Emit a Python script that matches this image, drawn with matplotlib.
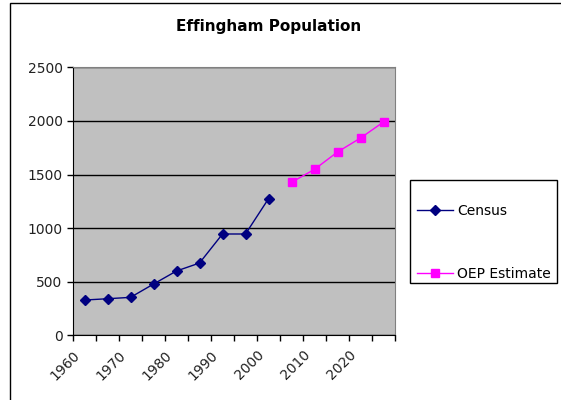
import matplotlib.pyplot as plt
from matplotlib.patches import Rectangle

plt.rcParams['font.family'] = ['DejaVu Sans']

years = [1960, 1965, 1970, 1975, 1980, 1985, 1990, 1995, 2000,
         2005, 2010, 2015, 2020, 2025]
census = [329, 341, 354, 478, 600, 674, 945, 945, 1274]
oep = [1427, 1548, 1710, 1840, 1990]
tick_labels = ['1960', '1970', '1980', '1990', '2000', '2010', '2020']

n = len(years)
x_census = list(range(len(census)))
x_oep = list(range(len(census), n))

fig = plt.figure(figsize=(5.61, 4.0), dpi=100)
# outer chart border
fig.patches.append(Rectangle((10 / 561, -0.01), 1.0, 1.0025, transform=fig.transFigure,
                             fill=False, edgecolor='black', linewidth=1.0))
# legend box
fig.patches.append(Rectangle((410 / 561, 117 / 400), 147 / 561, 103 / 400,
                             transform=fig.transFigure, fill=False,
                             edgecolor='black', linewidth=1.0))

ax = fig.add_axes([73 / 561, (400 - 335.3) / 400, 322 / 561, 268 / 400])
ax.set_facecolor('#C0C0C0')

ax.plot(x_census, census, color='#000080', marker='D', markersize=5.5, linewidth=1.0,
        label='Census')
ax.plot(x_oep, oep, color='#FF00FF', marker='s', markersize=6, linewidth=1.0,
        label='OEP Estimate')

ax.set_xlim(-0.5, n - 0.5)
ax.set_ylim(0, 2500)
ax.set_yticks(range(0, 2501, 500))
ax.yaxis.grid(True, color='black', linewidth=1.0)
ax.set_axisbelow(True)

ticks = [i - 0.5 for i in range(n + 1)]
labels = [''] * len(ticks)
for k, lab in enumerate(tick_labels):
    labels[2 * k] = lab
ax.set_xticks(ticks)
ax.set_xticklabels(labels, rotation=45, ha='right', rotation_mode='anchor')

ax.tick_params(axis='both', direction='out', length=4, width=1, labelsize=10,
               colors='black', labelcolor='#222222')
ax.tick_params(axis='x', pad=5)

for side in ['top', 'right']:
    ax.spines[side].set_color('#808080')
for side in ['left', 'bottom']:
    ax.spines[side].set_color('black')

fig.text(269 / 561, 1 - 26 / 400, 'Effingham Population', ha='center', va='center',
         fontsize=11, fontweight='bold')

leg = fig.legend(loc='upper left', bbox_to_anchor=(417 / 561, 1 - 204 / 400),
                 frameon=False, fontsize=10,
                 labelspacing=3.55, handlelength=2.6, handletextpad=0.3,
                 borderaxespad=0, borderpad=0)

fig.savefig('out.png', dpi=100)
